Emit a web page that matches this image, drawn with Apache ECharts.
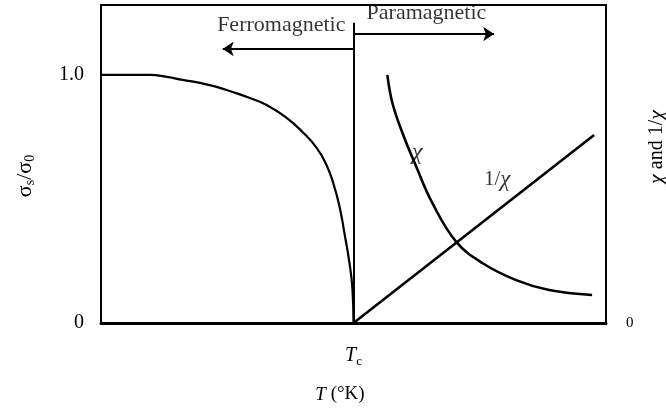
<!DOCTYPE html>
<html>
<head>
<meta charset="utf-8">
<script src="https://cdn.jsdelivr.net/npm/echarts@6/dist/echarts.min.js"></script>
<style>
  html, body { margin: 0; padding: 0; background: #fff; }
  #chart { width: 666px; height: 414px; }
</style>
</head>
<body>
<div id="chart"></div>
<script>
// Reduced temperature T/Tc and the magnetisation sigma_s/sigma_0 below Tc
const ferroT     = [0, 0.194, 0.261, 0.324, 0.391, 0.458, 0.522, 0.589, 0.656, 0.735, 0.798, 0.854, 0.893, 0.921, 0.945, 0.964, 0.984, 0.996, 1.0];
const ferroSigma = [1.0, 1.0, 0.992, 0.98, 0.968, 0.952, 0.931, 0.907, 0.879, 0.827, 0.77, 0.706, 0.637, 0.56, 0.468, 0.363, 0.242, 0.133, 0];

// Susceptibility above Tc
const chiT   = [1.134, 1.154, 1.194, 1.249, 1.312, 1.407, 1.51, 1.644, 1.775, 1.945];
const chiVal = [1.0, 0.887, 0.766, 0.629, 0.484, 0.327, 0.242, 0.173, 0.133, 0.113];

// Inverse susceptibility (Curie-Weiss straight line)
const invChiT   = [1.0, 1.953];
const invChiVal = [0, 0.758];

// Curie point and the axis range
const curieT = 1.0;
const yTop = 1.282;

const pair = (xs, ys) => xs.map((x, i) => [x, ys[i]]);
const serif = 'Liberation Serif, Times New Roman, serif';

const chart = echarts.init(document.getElementById('chart'), null, { renderer: 'canvas' });

chart.setOption({
  animation: false,
  backgroundColor: '#fff',
  grid: { left: 101, right: 60, top: 5, bottom: 91, show: true, borderColor: '#000', borderWidth: 2 },
  xAxis: {
    type: 'value', min: 0, max: 2, interval: 1,
    axisLine: { lineStyle: { color: '#000', width: 3 } },
    axisTick: { show: false },
    splitLine: { show: false },
    axisLabel: {
      margin: 20, color: '#000', fontFamily: serif, fontSize: 20,
      formatter: v => v === curieT ? '{i|T}{s|c}' : '',
      rich: {
        i: { fontStyle: 'italic', fontFamily: serif, fontSize: 20, color: '#000' },
        s: { fontFamily: serif, fontSize: 13, color: '#000', padding: [12, 0, 0, 0] }
      }
    },
    name: '{i|T} (°K)', nameLocation: 'middle', nameGap: 62,
    nameTextStyle: {
      color: '#000', fontFamily: serif, fontSize: 19, padding: [0, 27, 0, 0],
      rich: { i: { fontStyle: 'italic', fontFamily: serif, fontSize: 19, color: '#000' } }
    }
  },
  yAxis: [
    {
      type: 'value', min: 0, max: yTop, interval: 1,
      axisLine: { show: true, lineStyle: { color: '#000', width: 2 } },
      axisTick: { show: false },
      splitLine: { show: false },
      axisLabel: {
        margin: 17, color: '#000', fontFamily: serif, fontSize: 20,
        formatter: v => v === 0 ? '0' : (v === 1 ? '1.0' : ''),
        showMaxLabel: false
      },
      name: '{g|σ}{s|s}{g|/σ}{s|0}', nameLocation: 'middle', nameGap: 64, nameRotate: 90,
      nameTextStyle: {
        color: '#000', padding: [0, 24, 0, 0],
        rich: {
          g: { fontFamily: serif, fontSize: 22, color: '#000' },
          s: { fontFamily: serif, fontSize: 14, color: '#000', padding: [10, 0, 0, 0] }
        }
      }
    },
    {
      type: 'value', min: 0, max: yTop, interval: 1, position: 'right',
      axisLine: { show: true, lineStyle: { color: '#000', width: 2 } },
      axisTick: { show: false },
      splitLine: { show: false },
      axisLabel: {
        margin: 20, color: '#000', fontFamily: serif, fontSize: 15,
        formatter: v => v === 0 ? '0' : '',
        showMaxLabel: false
      }
    }
  ],
  graphic: [
    {
      type: 'text', x: 657, y: 147, rotation: Math.PI / 2,
      style: {
        text: '{i|χ} and 1/{i|χ}', fill: '#000', font: '20px ' + serif,
        align: 'center', verticalAlign: 'middle',
        rich: { i: { fontStyle: 'italic', fontFamily: serif, fontSize: 22, fill: '#000' } }
      }
    }
  ],
  series: [
    {
      name: 'sigma', type: 'line', data: pair(ferroT, ferroSigma),
      smooth: 0.5, showSymbol: false,
      lineStyle: { color: '#000', width: 2.2 }
    },
    {
      name: 'chi', type: 'line', data: pair(chiT, chiVal),
      smooth: 0.4, showSymbol: false,
      lineStyle: { color: '#000', width: 2.6 }
    },
    {
      name: 'invChi', type: 'line', data: pair(invChiT, invChiVal),
      showSymbol: false,
      lineStyle: { color: '#000', width: 2.6 }
    },
    {
      // Curie point divider and the two phase arrows
      type: 'lines', coordinateSystem: 'cartesian2d', silent: true,
      symbol: ['none', 'arrow'], symbolSize: [0, 11],
      lineStyle: { color: '#000', width: 2, opacity: 1 },
      data: [
        { coords: [[curieT, 1.105], [0.482, 1.105]] },
        { coords: [[curieT, 1.165], [1.557, 1.165]] },
        { coords: [[curieT, 0], [curieT, 1.21]], symbol: ['none', 'none'] }
      ]
    },
    {
      // text annotations placed in data coordinates
      type: 'scatter', symbolSize: 0, silent: true,
      label: { show: true, color: '#000', fontFamily: serif, fontSize: 22 },
      data: [
        { value: [0.968, 1.202], label: { formatter: 'Ferromagnetic', position: 'left', distance: 0 } },
        { value: [1.289, 1.25], label: { formatter: 'Paramagnetic', position: 'inside' } },
        { value: [1.253, 0.685], label: { formatter: 'χ', position: 'inside', fontStyle: 'italic', fontSize: 24 } },
        { value: [1.569, 0.577], label: { formatter: '1/{i|χ}', position: 'inside', fontSize: 21, rich: { i: { fontStyle: 'italic', fontFamily: serif, fontSize: 23, color: '#000' } } } }
      ]
    }
  ]
});
</script>
</body>
</html>
